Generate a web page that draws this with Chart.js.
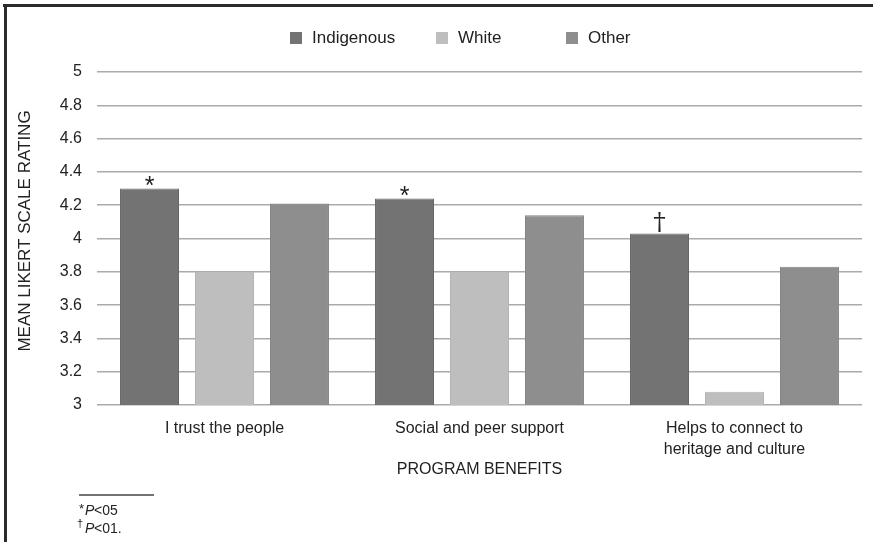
<!DOCTYPE html>
<html lang="en">
<head>
    <meta charset="UTF-8">
    <title>Program Benefits by Group</title>
    <script src="https://cdn.jsdelivr.net/npm/chart.js"></script>
    <style>
        html, body { margin: 0; padding: 0; background: #fff; }
        #wrap { width: 873px; height: 542px; position: relative; }
    </style>
</head>
<body>
    <div id="wrap">
        <canvas id="benefitsChart" width="873" height="542"></canvas>
    </div>

    <script>
        // data
        const categories = ['I trust the people', 'Social and peer support', ['Helps to connect to', 'heritage and culture']];
        const indigenous = [4.30, 4.24, 4.03];
        const white = [3.80, 3.80, 3.08];
        const other = [4.21, 4.14, 3.83];
        const sigMarks = ['*', '*', '\u2020'];   // significance marks on the Indigenous bars
        const yTicks = [3, 3.2, 3.4, 3.6, 3.8, 4, 4.2, 4.4, 4.6, 4.8, 5];

        const FONT = '"Liberation Sans", Arial, sans-serif';

        // frame, legend, axis titles, footnotes and marks over the bars
        const decor = {
            id: 'decor',
            beforeDraw(chart) {
                const ctx = chart.ctx;
                ctx.save();
                ctx.fillStyle = '#fff';
                ctx.fillRect(0, 0, chart.width, chart.height);
                ctx.fillStyle = '#2b2b2b';
                ctx.fillRect(3, 4, chart.width - 3, 3);
                ctx.fillRect(4, 4, 3, chart.height - 4);
                ctx.restore();
            },
            afterDraw(chart) {
                const ctx = chart.ctx;
                ctx.save();

                // legend
                const legendX = [290, 436, 566];
                ctx.font = '17px ' + FONT;
                ctx.textBaseline = 'middle';
                chart.data.datasets.forEach((ds, i) => {
                    ctx.fillStyle = ds.backgroundColor;
                    ctx.fillRect(legendX[i], 32, 12, 12);
                    ctx.fillStyle = '#222';
                    ctx.textAlign = 'left';
                    ctx.fillText(ds.label, legendX[i] + 22, 38);
                });

                // y axis title
                ctx.save();
                ctx.translate(25, 231);
                ctx.rotate(-Math.PI / 2);
                ctx.textAlign = 'center';
                ctx.fillStyle = '#222';
                ctx.font = '17px ' + FONT;
                ctx.fillText('MEAN LIKERT SCALE RATING', 0, 0);
                ctx.restore();

                // x axis title
                const area = chart.chartArea;
                ctx.textAlign = 'center';
                ctx.fillStyle = '#222';
                ctx.font = '16px ' + FONT;
                ctx.fillText('PROGRAM BENEFITS', (area.left + area.right) / 2, 470);

                // significance marks
                const meta = chart.getDatasetMeta(0);
                ctx.textBaseline = 'alphabetic';
                meta.data.forEach((bar, i) => {
                    if (sigMarks[i] === '*') {
                        ctx.font = '25px ' + FONT;
                        ctx.fillText('*', bar.x, bar.y + 5);
                    } else {
                        ctx.font = '25px "DejaVu Serif", serif';
                        ctx.fillText(sigMarks[i], bar.x, bar.y - 4);
                    }
                });

                // footnotes
                ctx.strokeStyle = '#444';
                ctx.lineWidth = 1.5;
                ctx.beginPath();
                ctx.moveTo(79, 495);
                ctx.lineTo(154, 495);
                ctx.stroke();
                ctx.textAlign = 'left';
                ctx.textBaseline = 'alphabetic';
                ctx.font = '13px ' + FONT;
                ctx.fillText('*', 79, 513);
                ctx.font = 'italic 14px ' + FONT;
                ctx.fillText('P', 85, 515);
                ctx.font = '14px ' + FONT;
                ctx.fillText('<05', 94, 515);
                ctx.font = '11px ' + FONT;
                ctx.fillText('\u2020', 77, 527);
                ctx.font = 'italic 14px ' + FONT;
                ctx.fillText('P', 85, 533);
                ctx.font = '14px ' + FONT;
                ctx.fillText('<01.', 94, 533);

                ctx.restore();
            }
        };

        new Chart(document.getElementById('benefitsChart'), {
            type: 'bar',
            data: {
                labels: categories,
                datasets: [
                    { label: 'Indigenous', data: indigenous, backgroundColor: '#737373', borderColor: '#666666', borderWidth: 1 },
                    { label: 'White', data: white, backgroundColor: '#bebebe', borderColor: '#b4b4b4', borderWidth: 1 },
                    { label: 'Other', data: other, backgroundColor: '#8e8e8e', borderColor: '#838383', borderWidth: 1 }
                ]
            },
            options: {
                responsive: false,
                animation: false,
                layout: { padding: { top: 72, right: 11, bottom: 77, left: 8 } },
                datasets: { bar: { categoryPercentage: 0.882, barPercentage: 0.787 } },
                plugins: {
                    legend: { display: false },
                    tooltip: { enabled: false }
                },
                scales: {
                    x: {
                        grid: { display: false },
                        border: { display: false },
                        ticks: {
                            color: '#222',
                            padding: 5,
                            maxRotation: 0,
                            font: { family: FONT, size: 16, lineHeight: 1.3 }
                        },
                        afterFit(scale) { scale.height = 60; }
                    },
                    y: {
                        min: 3,
                        max: 5,
                        afterBuildTicks(scale) { scale.ticks = yTicks.map(v => ({ value: v })); },
                        grid: { color: '#ababab', lineWidth: 1.5, drawTicks: false },
                        border: { display: false },
                        ticks: {
                            color: '#222',
                            padding: 15,
                            font: { family: FONT, size: 16 },
                            callback: v => String(Math.round(v * 10) / 10)
                        },
                        afterFit(scale) { scale.width = 89; }
                    }
                }
            },
            plugins: [decor]
        });
    </script>
</body>
</html>
